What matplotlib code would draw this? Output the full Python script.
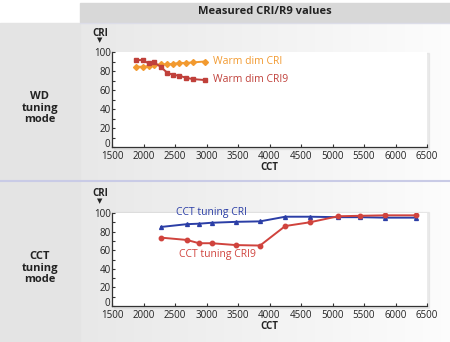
import numpy as np
import matplotlib.pyplot as plt
import matplotlib.transforms as mtransforms
from matplotlib.patches import Rectangle

plt.rcParams["font.family"] = ["Open Sans", "DejaVu Sans"]

# WD tuning mode
wd_cct = [1880, 1990, 2080, 2170, 2270, 2380, 2470, 2570, 2670, 2780, 2970]
wd_cri = [84.5, 84.5, 85, 86, 87, 87, 87.5, 88.5, 88.5, 89, 90]
wd_r9 = [91.5, 91.5, 88, 89, 84.5, 78, 76, 75, 73, 71.5, 70.5]

# CCT tuning mode
cct_cct = [2280, 2690, 2880, 3080, 3470, 3850, 4250, 4640, 5090, 5440, 5830, 6320]
cct_cri = [85, 88, 88.5, 89.5, 90.5, 91, 96, 96, 95.5, 95.5, 95, 95]
cct_r9 = [73.5, 71, 67.5, 67.5, 65.5, 65, 86, 90, 96.5, 97, 97.5, 97.5]

x_ticks = [1500, 2000, 2500, 3000, 3500, 4000, 4500, 5000, 5500, 6000, 6500]
y_ticks = [0, 20, 40, 60, 80, 100]

W, H = 450, 342
fig = plt.figure(figsize=(W / 100, H / 100), dpi=100)

# background in pixel coordinates
bg = fig.add_axes([0, 0, 1, 1])
bg.set_xlim(0, W)
bg.set_ylim(H, 0)
bg.axis("off")
grad = np.linspace(0.91, 0.99, 256).reshape(1, -1)
bg.imshow(np.dstack([grad, grad, grad]), extent=[80, W, H, 23], aspect="auto")
bg.add_patch(Rectangle((0, 23), 80, H - 23, color="#e4e4e4"))
bg.add_patch(Rectangle((80, 3), W - 80, 19, color="#d8d8d8"))
bg.plot([0, W], [181, 181], color="#c9cbe6", lw=1.5)
bg.plot([80, W], [23, 23], color="#dcdde8", lw=1)
bg.text(265, 12, "Measured CRI/R9 values", ha="center", va="center",
        fontsize=8, fontweight="bold", color="#222222")
bg.text(40, 108, "WD\ntuning\nmode", ha="center", va="center",
        fontsize=8, fontweight="bold", linespacing=1.05, color="#222222")
bg.text(40, 268, "CCT\ntuning\nmode", ha="center", va="center",
        fontsize=8, fontweight="bold", linespacing=1.05, color="#222222")
for top in (52, 213):
    bg.text(100, top - 19, "CRI", ha="center", va="center", fontsize=7,
            fontweight="bold", color="#222222")
    bg.text(100, top - 11, "▼", ha="center", va="center", fontsize=5,
            color="#222222")
for bottom in (147, 306):
    bg.add_patch(Rectangle((114, bottom - 94), 315, 96, color="#cfcfcf",
                           alpha=0.35))


def setup(ax):
    ax.set_xlim(1500, 6500)
    ax.set_ylim(0, 100)
    ax.set_facecolor("white")
    ax.set_xticks(x_ticks)
    ax.set_yticks(y_ticks)
    ax.set_yticks(range(10, 100, 20), minor=True)
    ax.tick_params(direction="in", length=2.5, width=0.8, labelsize=7,
                   pad=1, colors="#333333", labelcolor="#222222")
    ax.tick_params(axis="x", pad=3)
    ax.tick_params(which="minor", direction="in", length=2, width=0.8,
                   colors="#333333")
    for s in ("top", "right"):
        ax.spines[s].set_visible(False)
    for s in ("left", "bottom"):
        ax.spines[s].set_color("#333333")
        ax.spines[s].set_linewidth(0.9)
    ax.set_xlabel("CCT", fontsize=7, fontweight="bold", labelpad=0,
                  color="#222222")
    # lift the "0" label a little so it clears the x tick labels
    fig.canvas.draw()
    zero = ax.get_yticklabels()[0]
    zero.set_va("bottom")
    zero.set_transform(zero.get_transform() + mtransforms.ScaledTranslation(
        0, -2 / 72, fig.dpi_scale_trans))


ax1 = fig.add_axes([112 / W, 1 - 147 / H, 315 / W, 95 / H])
setup(ax1)
ax1.plot(wd_cct, wd_cri, color="#f29a30", marker="D", ms=3, lw=1.4)
ax1.plot(wd_cct, wd_r9, color="#c0403a", marker="s", ms=3, lw=1.4)
ax1.text(3100, 90, "Warm dim CRI", color="#f29a30", fontsize=7.5,
         va="center")
ax1.text(3100, 71.5, "Warm dim CRI9", color="#c0403a", fontsize=7.5,
         va="center")

ax2 = fig.add_axes([112 / W, 1 - 306 / H, 315 / W, 93 / H])
setup(ax2)
ax2.plot(cct_cct, cct_cri, color="#2b3ea6", marker="^", ms=2.8, lw=1.4)
ax2.plot(cct_cct, cct_r9, color="#d0433d", marker="o", ms=3.2, lw=1.4)
ax2.text(2520, 101, "CCT tuning CRI", color="#2b3ea6", fontsize=7.5,
         va="center", clip_on=False)
ax2.text(2560, 55, "CCT tuning CRI9", color="#d0433d", fontsize=7.5,
         va="center")

fig.savefig("out.png", dpi=100)
